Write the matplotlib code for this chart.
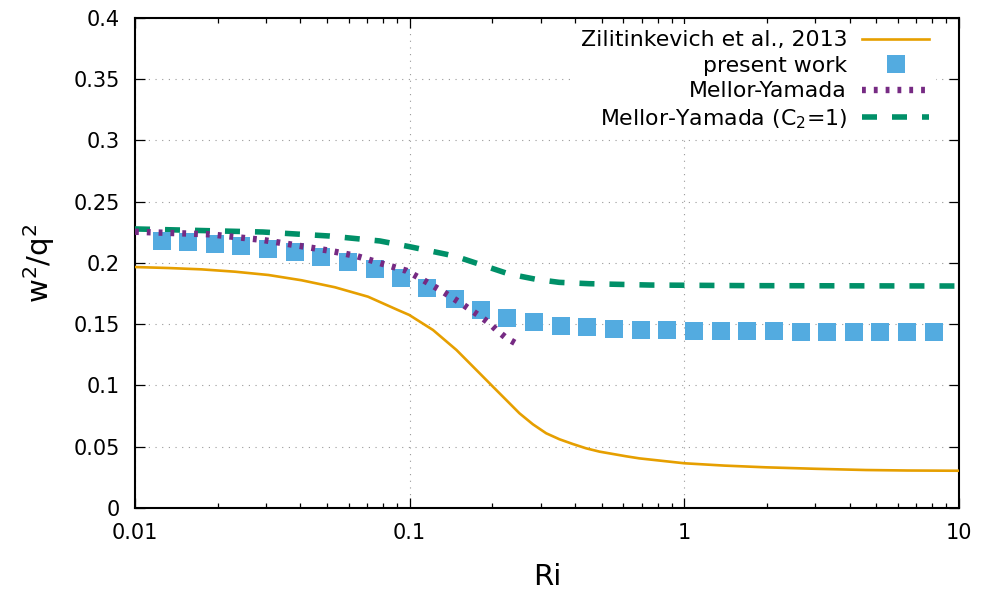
import matplotlib
matplotlib.use('Agg')
import matplotlib.pyplot as plt
from matplotlib.ticker import LogLocator, NullFormatter, FixedLocator

# Zilitinkevich et al. (2013)
ri_zil = [0.01, 0.01322, 0.01748, 0.0231, 0.0306, 0.0404, 0.0534, 0.0705, 0.0906, 0.0996,
          0.1216, 0.148, 0.1797, 0.201, 0.225, 0.251, 0.281, 0.314, 0.351, 0.393,
          0.439, 0.491, 0.549, 0.614, 0.686, 1.0, 1.4, 1.98, 3.0, 4.58, 6.5, 10.0]
w2q2_zil = [0.1967, 0.1959, 0.1948, 0.1929, 0.1902, 0.1859, 0.1802, 0.1725, 0.1616, 0.1576,
            0.1453, 0.1290, 0.1100, 0.0990, 0.0880, 0.0773, 0.0683, 0.0610, 0.0561, 0.0522,
            0.0487, 0.0460, 0.0441, 0.0422, 0.0405, 0.0365, 0.0346, 0.0332, 0.0320, 0.0310,
            0.0306, 0.0304]

# present work
ri_pw = [0.0125, 0.0156, 0.0195, 0.0244, 0.0305, 0.0381, 0.0477, 0.0596, 0.0745, 0.0931,
         0.116, 0.146, 0.182, 0.227, 0.284, 0.355, 0.444, 0.555, 0.694, 0.867,
         1.08, 1.36, 1.69, 2.12, 2.65, 3.31, 4.14, 5.17, 6.46, 8.08]
w2q2_pw = [0.2182, 0.2169, 0.2155, 0.2139, 0.2114, 0.2087, 0.2052, 0.2008, 0.1951, 0.1880,
           0.1798, 0.1706, 0.1618, 0.1555, 0.1516, 0.1488, 0.1475, 0.1464, 0.1456, 0.1450,
           0.1447, 0.1445, 0.1443, 0.1441, 0.1440, 0.1439, 0.1438, 0.1437, 0.1437, 0.1436]

# Mellor-Yamada
ri_my = [0.01, 0.01875, 0.0292, 0.0512, 0.0640, 0.0800, 0.0973, 0.112, 0.132, 0.154,
         0.167, 0.180, 0.195, 0.209, 0.224, 0.247, 0.252]
w2q2_my = [0.2255, 0.2234, 0.2188, 0.2100, 0.2057, 0.1992, 0.1937, 0.1861, 0.1766, 0.1670,
           0.1616, 0.1567, 0.1508, 0.1445, 0.1390, 0.1336, 0.1320]

# Mellor-Yamada (C2=1)
ri_my1 = [0.01, 0.0292, 0.0512, 0.0778, 0.1, 0.136, 0.148, 0.183, 0.230, 0.288,
          0.35, 0.45, 0.75, 1.72, 10.0]
w2q2_my1 = [0.2278, 0.2253, 0.2220, 0.2180, 0.2133, 0.2071, 0.2052, 0.1984, 0.1910, 0.1867,
            0.1842, 0.1831, 0.1820, 0.1815, 0.1812]

plt.rcParams['font.family'] = ['DejaVu Sans']

fig = plt.figure(figsize=(9.89, 5.90), dpi=100)
ax = fig.add_axes([0.1365, 0.139, 0.8332, 0.8305])

ax.plot(ri_zil, w2q2_zil, color='#E69F00', lw=1.9, label='Zilitinkevich et al., 2013', zorder=3)
ax.plot(ri_pw, w2q2_pw, ls='none', marker='s', ms=13, mfc='#53ABE0', mec='#53ABE0', mew=0,
        label='present work', zorder=4)
ax.plot(ri_my, w2q2_my, color='#762a83', lw=4.6, dashes=(0.6, 1.25), dash_capstyle='butt',
        label='Mellor-Yamada', zorder=5)
ax.plot(ri_my1, w2q2_my1, color='#009068', lw=4.0, dashes=(2.7, 2.7), dash_capstyle='butt',
        label='Mellor-Yamada (C$_2$=1)', zorder=3)

ax.set_xscale('log')
ax.set_xlim(0.01, 10)
ax.set_ylim(0, 0.4)
ax.xaxis.set_major_locator(FixedLocator([0.01, 0.1, 1, 10]))
ax.set_xticklabels(['0.01', '0.1', '1', '10'])
ax.xaxis.set_minor_locator(LogLocator(base=10, subs=range(2, 10)))
ax.xaxis.set_minor_formatter(NullFormatter())
ax.set_yticks([0, 0.05, 0.1, 0.15, 0.2, 0.25, 0.3, 0.35, 0.4])
ax.set_yticklabels(['0', '0.05', '0.1', '0.15', '0.2', '0.25', '0.3', '0.35', '0.4'])

ax.tick_params(which='both', direction='in', top=True, right=True, width=0.9, labelsize=15)
ax.tick_params(which='major', length=7.5)
ax.tick_params(which='minor', length=3.6)
ax.tick_params(axis='y', pad=11)
ax.tick_params(axis='x', pad=11)
for s in ax.spines.values():
    s.set_linewidth(1.5)

ax.grid(True, which='major', color='#999999', lw=0.8, ls=(0, (1, 5)))

ax.set_xlabel('Ri', fontsize=21, labelpad=14)
ax.set_ylabel('w$^2$/q$^2$', fontsize=21, labelpad=12)

leg = ax.legend(loc='upper right', bbox_to_anchor=(0.972, 0.988), borderaxespad=0,
                markerfirst=False, fontsize=15.8, handlelength=3.05, handletextpad=0.7,
                labelspacing=0.25, borderpad=0.3, frameon=True, fancybox=False,
                framealpha=1, edgecolor='none', numpoints=1)

fig.savefig('out.png', dpi=100)
